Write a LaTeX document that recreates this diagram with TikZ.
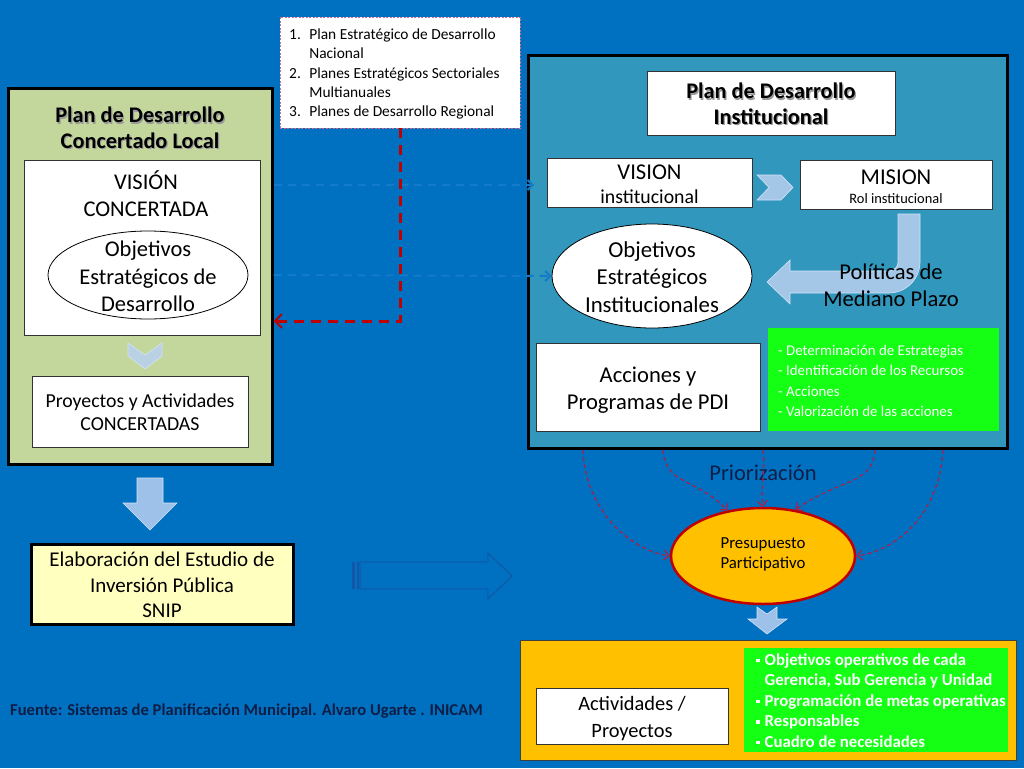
\documentclass[tikz,border=0pt]{standalone}
\usepackage{fontspec}
\setmainfont{Carlito}
\usetikzlibrary{shapes.geometric,arrows.meta,calc}
\definecolor{bg}{RGB}{0,112,192}
\definecolor{olivebox}{RGB}{195,214,155}
\definecolor{tealbox}{RGB}{49,151,189}
\definecolor{paleyellow}{RGB}{255,255,192}
\definecolor{gold}{RGB}{255,192,0}
\definecolor{brightgreen}{RGB}{20,255,20}
\definecolor{darkred}{RGB}{192,0,0}
\definecolor{curvered}{RGB}{175,30,70}
\definecolor{pinkdash}{RGB}{200,110,150}
\definecolor{arrowblue}{RGB}{185,208,240}
\definecolor{linkblue}{RGB}{20,122,202}
\definecolor{navytext}{RGB}{15,30,70}
\definecolor{hollowblue}{RGB}{25,80,160}
\newcommand{\myfs}[2]{\fontsize{#1}{#2}\selectfont}
\begin{document}
\begin{tikzpicture}[x=1pt,y=-1pt,
  box/.style={draw=black!80,line width=0.8pt,fill=white,inner sep=0pt},
  bigframe/.style={draw=black,line width=3pt,inner sep=0pt},
  txt/.style={inner sep=0pt,align=center,text=black},
  ttl/.style={inner sep=0pt,align=center,font=\bfseries\myfs{22.3}{25.5}},
  shadowtxt/.style={ttl,text=black!40},
  oval/.style={ellipse,draw=black,line width=0.8pt,fill=white,inner sep=0pt},
  reddash/.style={draw=darkred,line width=3pt,dash pattern=on 10pt off 7pt,-{Straight Barb[length=7pt,width=14pt,line width=2pt]}},
  curvedash/.style={draw=curvered,line width=1.2pt,dash pattern=on 4pt off 3pt,-{Straight Barb[length=5pt,width=10pt]}},
  linkdash/.style={draw=linkblue,line width=2pt,dash pattern=on 8pt off 6pt,-{Straight Barb[length=5pt,width=10pt]}},
  blockarrow/.style={fill=arrowblue,fill opacity=0.85,draw=arrowblue!60!white,line width=0.6pt}
]
\fill[bg] (0,0) rectangle (1024,768);
\useasboundingbox (0,0) rectangle (1024,768);

% ---------- left frame ----------
\node[bigframe,fill=olivebox,minimum width=264,minimum height=376] (L) at (140,276) {};
\node[shadowtxt] (Ltsh) at (141.2,129.2) {Plan de Desarrollo\\Concertado Local};
\node[ttl] (Lt) at (140,128) {Plan de Desarrollo\\Concertado Local};
\node[box,minimum width=236,minimum height=175] (Lv) at (142,247.5) {};
\node[txt,font=\myfs{22.5}{27}] (Lvt) at (146,193.5) {VISIÓN\\CONCERTADA};
\node[oval,minimum width=200,minimum height=88] (Lo) at (148,275) {};
\node[txt,font=\myfs{22.5}{27.5}] (Lot) at (148,276.5) {Objetivos\\Estratégicos de\\Desarrollo};
\fill[blockarrow] (128,343) -- (145,355) -- (162,343) -- (162,356) -- (145,369) -- (128,356) -- cycle;
\node[box,minimum width=216,minimum height=71] (Lp) at (140,411.5) {};
\node[txt,font=\myfs{19.8}{23.5}] (Lpt) at (140,412) {Proyectos y Actividades\\CONCERTADAS};

% down block arrow
\filldraw[blockarrow] (137,478) -- (163,478) -- (163,503) -- (177,503) -- (150,530) -- (123,503) -- (137,503) -- cycle;

% Elaboracion
\node[bigframe,fill=paleyellow,minimum width=262,minimum height=80] (E) at (162,584) {};
\node[txt,font=\myfs{21}{25.5}] (Et) at (162,585) {Elaboración del Estudio de\\Inversión Pública\\SNIP};

% hollow arrow
\draw[hollowblue,line width=0.8pt] (360,562) -- (488,562) -- (488,553) -- (512,576) -- (488,599) -- (488,589) -- (360,589) -- cycle;
\fill[hollowblue!80!bg] (352,562) rectangle (355,589);
\fill[hollowblue!80!bg] (356.5,562) rectangle (359,589);

% source
\node[anchor=west,inner sep=0pt,text=navytext,font=\bfseries\myfs{16.6}{18}] (src) at (10,711) {Fuente: Sistemas de Planificación Municipal. Alvaro Ugarte . INICAM};

% ---------- top list box ----------
\node[draw=pinkdash,line width=0.8pt,dash pattern=on 2pt off 1.5pt,fill=white,minimum width=240,minimum height=111,inner sep=0pt] (T) at (400,72.5) {};
\node[inner sep=0pt,anchor=north west,font=\myfs{15.4}{19.2}] (Tt) at (289,26) {%
\begin{tabular}{@{}l@{\hspace{8.5pt}}l@{}}
1. & Plan Estratégico de Desarrollo\\
   & Nacional\\
2. & Planes Estratégicos Sectoriales\\
   & Multianuales\\
3. & Planes de Desarrollo Regional
\end{tabular}};

% ---------- right frame ----------
\node[bigframe,fill=tealbox,minimum width=479,minimum height=392] (R) at (767.5,252) {};
\node[box,minimum width=248,minimum height=64] (Rt) at (771,103) {};
\node[shadowtxt] (Rtsh) at (772.2,105.2) {Plan de Desarrollo\\Institucional};
\node[ttl] (Rtt) at (771,104) {Plan de Desarrollo\\Institucional};

\node[box,minimum width=205,minimum height=49] (Rv) at (649.5,182.5) {};
\node[txt,font=\myfs{22.6}{24}] (Rvt1) at (649.5,172) {VISION};
\node[txt,font=\myfs{19.8}{22}] (Rvt2) at (649.5,196.5) {institucional};
\node[box,minimum width=192,minimum height=49] (Rm) at (896,184.5) {};
\node[txt,font=\myfs{22.6}{24}] (Rmt1) at (896,177) {MISION};
\node[txt,font=\myfs{14.4}{16}] (Rmt2) at (896,198.5) {Rol institucional};
\fill[blockarrow] (757,175) -- (781,175) -- (793,187.5) -- (781,200) -- (757,200) -- (769,187.5) -- cycle;

\node[oval,minimum width=200,minimum height=104] (Ro) at (652,276) {};
\node[txt,font=\myfs{22.8}{27.5}] (Rot) at (652,277) {Objetivos\\Estratégicos\\Institucionales};

% U-turn arrow
\filldraw[blockarrow] (898,214) -- (920,214) -- (920,262) .. controls (920,279) and (906,293) .. (889,293) -- (790,293) -- (790,304) -- (767,282) -- (790,260) -- (790,271) -- (889,271) .. controls (894,271) and (898,267) .. (898,262) -- cycle;
\node[txt,font=\myfs{22.6}{27}] (Rpt) at (891,285) {Políticas de\\Mediano Plazo};

\node[box,minimum width=224,minimum height=88] (Ra) at (648,387) {};
\node[txt,font=\myfs{22.6}{27}] (Rat) at (648,390) {Acciones y\\Programas de PDI};

\node[fill=brightgreen,minimum width=231,minimum height=103,inner sep=0pt] (Rg) at (883.5,379.5) {};
\node[anchor=west,inner sep=0pt,align=left,text=white,font=\myfs{14.9}{20.4}] (Rgt) at (778,381) {- Determinación de Estrategias\\- Identificación de los Recursos\\- Acciones\\- Valorización de las acciones};

% links between frames
\coordinate (c1) at (534,185);
\draw[linkdash] (L.east |- c1) -- (c1);
\draw[linkdash] (L.east |- Lo.east) -- (Ro.west);
% red dashed
\draw[reddash] (T.south) |- (L.east |- 0,321);

% ---------- presupuesto ----------
\node[ellipse,draw=darkred,line width=2.5pt,fill=gold,minimum width=184,minimum height=96,inner sep=0pt] (P) at (763,556) {};
\node[txt,font=\myfs{16.8}{20}] (Pt) at (763,554) {Presupuesto\\Participativo};
\node[txt,text=navytext,font=\myfs{22.5}{24}] (prio) at (763,473) {Priorización};

\coordinate (d1) at (583,450);
\coordinate (d2) at (663,450);
\coordinate (d3) at (763,450);
\coordinate (d4) at (875,450);
\coordinate (d5) at (943,450);
\draw[curvedash] (d1) .. controls (585,510) and (630,550) .. (P.west);
\draw[curvedash] (d2) .. controls (665,485) and (697,478) .. (P.128);
\draw[curvedash] (d3) .. controls (766,475) and (760,485) .. (P.north);
\draw[curvedash] (d4) .. controls (873,485) and (840,478) .. (P.55);
\draw[curvedash] (d5) .. controls (940,510) and (900,550) .. (P.east);

\filldraw[blockarrow] (757,607) -- (767,614) -- (777,607) -- (777,619) -- (787,619) -- (767,634) -- (748,619) -- (757,619) -- cycle;

% ---------- bottom ----------
\node[draw=black!75,line width=1pt,fill=gold,minimum width=496,minimum height=120,inner sep=0pt] (B) at (768,700) {};
\node[box,minimum width=192,minimum height=56] (Ba) at (632,716) {};
\node[txt,font=\myfs{20.4}{27}] (Bat) at (632,718.5) {Actividades /\\Proyectos};
\node[fill=brightgreen,minimum width=264,minimum height=104,inner sep=0pt] (Bg) at (876,700) {};
\node[anchor=north west,inner sep=0pt,text=white,font=\bfseries\myfs{16.8}{20.5}] (Bgt) at (756,650.5) {%
\begin{tabular}{@{}l@{\hspace{5pt}}l@{}}
\raisebox{3pt}{\rule{3.5pt}{3.5pt}} & Objetivos operativos de cada\\
 & Gerencia, Sub Gerencia y Unidad\\
\raisebox{3pt}{\rule{3.5pt}{3.5pt}} & Programación de metas operativas\\
\raisebox{3pt}{\rule{3.5pt}{3.5pt}} & Responsables\\
\raisebox{3pt}{\rule{3.5pt}{3.5pt}} & Cuadro de necesidades
\end{tabular}};
\end{tikzpicture}
\end{document}
